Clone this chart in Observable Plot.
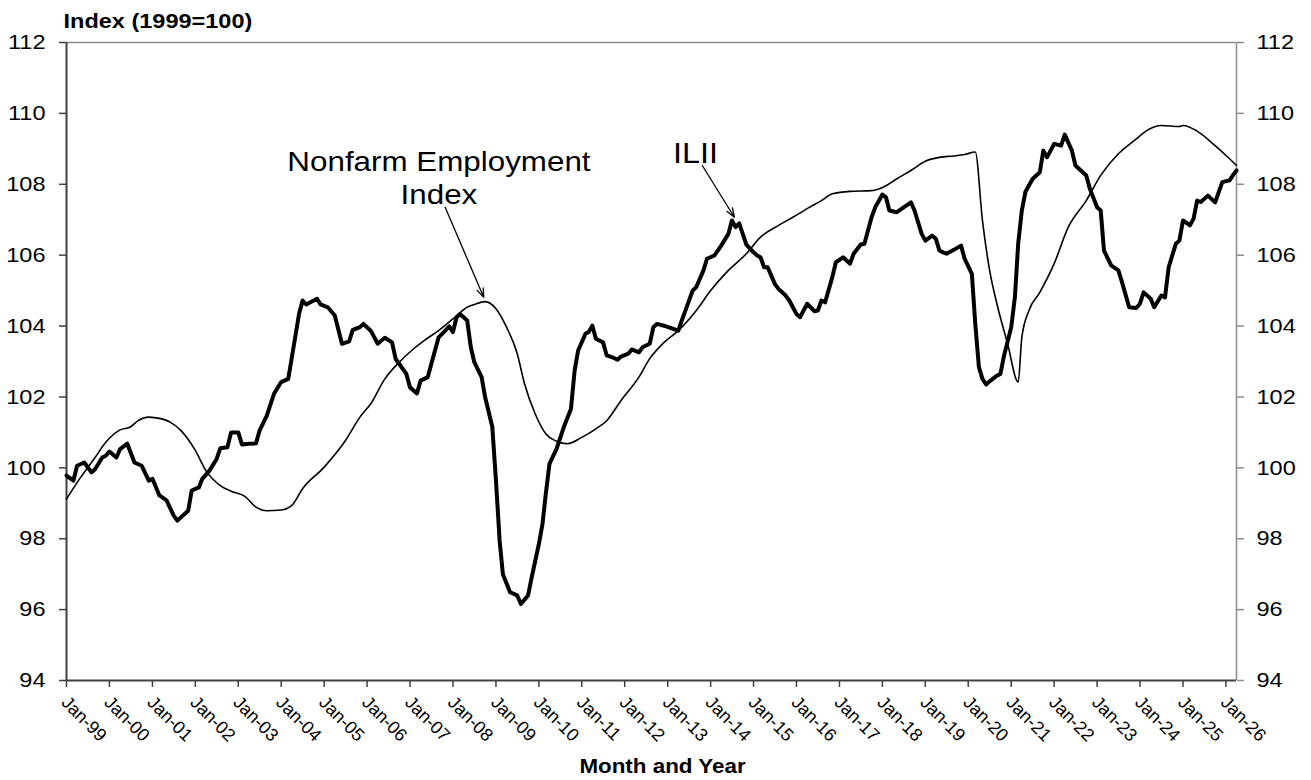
<!DOCTYPE html>
<html>
<head>
<meta charset="utf-8">
<script src="https://cdn.jsdelivr.net/npm/d3@7"></script>
<script src="https://cdn.jsdelivr.net/npm/@observablehq/plot@0.6"></script>
<style>
  body { margin: 0; background: #fff; }
  #chart svg { display: block; }
</style>
</head>
<body>
<div id="chart"></div>
<script>
// ILII (thick line) – month and index value
const iliiMonths = ["1999-01","1999-03","1999-04","1999-06","1999-08","1999-09","1999-11","1999-12","2000-01","2000-03","2000-04","2000-06","2000-08","2000-10","2000-12","2001-01","2001-03","2001-05","2001-07","2001-08","2001-11","2001-12","2002-02","2002-03","2002-05","2002-07","2002-08","2002-10","2002-11","2003-01","2003-02","2003-04","2003-06","2003-07","2003-09","2003-11","2004-01","2004-03","2004-04","2004-06","2004-07","2004-08","2004-11","2004-12","2005-02","2005-04","2005-06","2005-08","2005-09","2005-11","2005-12","2006-02","2006-04","2006-06","2006-08","2006-09","2006-12","2007-01","2007-03","2007-04","2007-06","2007-07","2007-09","2007-10","2007-12","2008-01","2008-02","2008-03","2008-05","2008-06","2008-07","2008-09","2008-10","2008-12","2009-01","2009-02","2009-03","2009-05","2009-07","2009-08","2009-10","2009-11","2010-01","2010-02","2010-03","2010-04","2010-06","2010-08","2010-10","2010-11","2010-12","2011-02","2011-03","2011-04","2011-05","2011-07","2011-08","2011-10","2011-11","2011-12","2012-02","2012-03","2012-05","2012-06","2012-07","2012-08","2012-09","2012-10","2012-12","2013-04","2013-05","2013-08","2013-09","2013-11","2013-12","2014-02","2014-04","2014-06","2014-07","2014-08","2014-09","2014-10","2014-11","2015-01","2015-02","2015-03","2015-04","2015-05","2015-07","2015-08","2015-10","2015-11","2016-01","2016-02","2016-04","2016-06","2016-07","2016-08","2016-09","2016-11","2016-12","2017-02","2017-04","2017-05","2017-07","2017-08","2017-10","2017-11","2018-01","2018-02","2018-03","2018-05","2018-07","2018-09","2018-10","2018-12","2019-01","2019-03","2019-04","2019-05","2019-06","2019-07","2019-09","2019-11","2019-12","2020-02","2020-03","2020-04","2020-05","2020-06","2020-07","2020-09","2020-10","2020-11","2021-01","2021-02","2021-03","2021-04","2021-05","2021-07","2021-09","2021-10","2021-11","2022-01","2022-03","2022-04","2022-06","2022-07","2022-09","2022-10","2022-11","2023-01","2023-02","2023-03","2023-05","2023-07","2023-08","2023-10","2023-12","2024-01","2024-02","2024-04","2024-05","2024-07","2024-08","2024-09","2024-11","2024-12","2025-01","2025-03","2025-04","2025-05","2025-06","2025-08","2025-10","2025-11","2025-12","2026-02","2026-03","2026-04"];
const iliiValues = [99.78,99.64,100.06,100.15,99.87,99.96,100.29,100.34,100.46,100.29,100.53,100.68,100.15,100.06,99.64,99.69,99.22,99.08,98.65,98.51,98.79,99.36,99.45,99.69,99.92,100.25,100.55,100.58,101.00,101.00,100.66,100.68,100.69,101.05,101.47,102.09,102.42,102.51,103.12,104.34,104.72,104.61,104.77,104.61,104.53,104.30,103.50,103.57,103.89,103.97,104.06,103.87,103.50,103.67,103.54,103.07,102.65,102.27,102.10,102.46,102.56,102.93,103.68,103.78,103.99,103.83,104.25,104.34,104.16,103.40,102.98,102.56,101.99,101.15,99.64,97.95,97.00,96.49,96.40,96.16,96.40,96.91,97.85,98.42,99.27,100.11,100.54,101.15,101.66,102.74,103.31,103.78,103.83,104.01,103.64,103.54,103.17,103.10,103.05,103.14,103.22,103.34,103.26,103.40,103.45,103.50,103.97,104.06,104.01,103.87,104.16,105.00,105.10,105.57,105.90,105.99,106.27,106.60,106.98,106.79,106.90,106.60,106.30,106.08,105.99,105.94,105.66,105.66,105.19,105.05,104.86,104.72,104.34,104.25,104.63,104.42,104.44,104.72,104.67,105.38,105.80,105.94,105.76,106.04,106.30,106.32,107.07,107.35,107.71,107.63,107.26,107.21,107.35,107.49,107.26,106.60,106.41,106.55,106.46,106.13,106.08,106.04,106.15,106.27,105.90,105.47,104.06,102.84,102.51,102.35,102.44,102.60,102.65,103.17,103.97,104.81,106.32,107.26,107.78,108.15,108.34,108.95,108.76,109.14,109.09,109.40,108.95,108.53,108.34,108.25,107.87,107.35,107.26,106.13,105.71,105.57,105.24,104.53,104.51,104.63,104.95,104.77,104.53,104.86,104.81,105.66,106.32,106.41,106.98,106.84,107.03,107.54,107.50,107.68,107.49,107.78,108.06,108.11,108.25,108.39];

// Nonfarm Employment Index (thin line)
const nfMonths = ["1999-01","1999-05","1999-09","1999-12","2000-04","2000-07","2000-09","2000-12","2001-02","2001-06","2001-09","2002-01","2002-04","2002-08","2002-11","2003-03","2003-06","2003-09","2004-01","2004-04","2004-07","2005-01","2005-07","2005-11","2006-02","2006-06","2006-10","2007-02","2007-05","2007-09","2008-01","2008-05","2008-07","2008-10","2009-01","2009-04","2009-07","2009-09","2009-12","2010-03","2010-06","2010-09","2011-01","2011-05","2011-08","2011-12","2012-05","2012-08","2012-12","2013-04","2013-09","2014-01","2014-06","2014-11","2015-03","2015-08","2015-12","2016-05","2016-08","2016-11","2017-04","2017-10","2018-02","2018-05","2018-09","2019-01","2019-05","2019-09","2019-12","2020-03","2020-05","2020-07","2020-09","2020-12","2021-03","2021-04","2021-06","2021-09","2022-01","2022-05","2022-10","2023-02","2023-07","2023-12","2024-03","2024-07","2024-12","2025-01","2025-05","2025-10","2026-02","2026-04"];
const nfValues = [99.12,99.73,100.29,100.72,101.07,101.16,101.33,101.43,101.41,101.29,101.05,100.49,99.92,99.50,99.34,99.19,98.89,98.79,98.81,98.94,99.41,100.02,100.77,101.43,101.81,102.51,102.98,103.36,103.59,103.87,104.20,104.53,104.61,104.69,104.49,103.97,103.22,102.37,101.52,100.96,100.75,100.68,100.86,101.10,101.33,101.90,102.56,103.08,103.54,103.87,104.44,105.00,105.57,106.04,106.51,106.84,107.07,107.37,107.54,107.73,107.80,107.82,107.96,108.15,108.39,108.65,108.76,108.80,108.84,108.91,106.98,105.57,104.63,103.50,102.42,103.68,104.44,104.95,105.76,106.79,107.54,108.25,108.86,109.28,109.52,109.66,109.63,109.66,109.50,109.09,108.72,108.53];

const yTicks = [94, 96, 98, 100, 102, 104, 106, 108, 110, 112];
const tickLabels = ["Jan-99","Jan-00","Jan-01","Jan-02","Jan-03","Jan-04","Jan-05","Jan-06","Jan-07","Jan-08","Jan-09","Jan-10","Jan-11","Jan-12","Jan-13","Jan-14","Jan-15","Jan-16","Jan-17","Jan-18","Jan-19","Jan-20","Jan-21","Jan-22","Jan-23","Jan-24","Jan-25","Jan-26"];

// Callout labels and pointer arrows (anchored in data space)
const labelTexts = ["Nonfarm Employment\nIndex", "ILII"];
const labelDates = ["2007-09-04", "2013-08-25"];
const labelValues = [109.05, 109.28];
const labelSizes = [28, 29];
const arrowFromDates = ["2007-10-27", "2013-10-22"];
const arrowFromValues = [107.35, 108.53];
const arrowToDates = ["2008-09-19", "2014-07-22"];
const arrowToValues = [104.81, 107.07];

const parseM = d3.utcParse("%Y-%m");
const parseD = d3.utcParse("%Y-%m-%d");
const ilii = iliiMonths.map((m, i) => ({date: parseM(m), value: iliiValues[i]}));
const nf = nfMonths.map((m, i) => ({date: parseM(m), value: nfValues[i]}));
const tickDates = tickLabels.map((l, i) => new Date(Date.UTC(1999 + i, 0, 1)));
const labelOf = new Map(tickDates.map((d, i) => [+d, tickLabels[i]]));
const labels = labelTexts.map((t, i) => ({text: t, date: parseD(labelDates[i]), value: labelValues[i], size: labelSizes[i]}));
const arrows = arrowFromDates.map((d, i) => ({x1: parseD(d), y1: arrowFromValues[i], x2: parseD(arrowToDates[i]), y2: arrowToValues[i]}));

const xStart = ilii[0].date, xEnd = ilii[ilii.length - 1].date;
const dark = "#404040", grey = "#8c8c8c";

const chart = Plot.plot({
  width: 1311,
  height: 780,
  marginLeft: 66,
  marginRight: 75,
  marginTop: 42,
  marginBottom: 100,
  style: {fontFamily: "'Liberation Sans', Arial, sans-serif", fontSize: "21px", color: "black", background: "white"},
  x: {type: "utc", domain: [xStart, xEnd]},
  y: {domain: [94, 112]},
  marks: [
    Plot.ruleY([112], {stroke: grey, strokeWidth: 1.5}),
    Plot.ruleX([xEnd], {stroke: grey, strokeWidth: 1.5}),
    Plot.axisY(yTicks, {anchor: "left", tickSize: 7, tickPadding: 14, stroke: dark, strokeWidth: 1.5, fontSize: 21, label: null}),
    Plot.axisY(yTicks, {anchor: "right", tickSize: 7, tickPadding: 13, stroke: grey, strokeWidth: 1.5, fontSize: 21, label: null}),
    // tick marks
    Plot.axisX(tickDates, {anchor: "bottom", tickSize: 7, text: null, stroke: dark, strokeWidth: 1.5, label: null}),
    // rotated tick labels
    Plot.axisX(tickDates, {anchor: "bottom", tickSize: 0, tickPadding: 19, tickRotate: 45, textAnchor: "start", dx: -2,
      fontSize: 18, label: null, tickFormat: d => labelOf.get(+d)}),
    Plot.ruleX([xStart], {stroke: dark, strokeWidth: 2}),
    Plot.ruleY([94], {stroke: dark, strokeWidth: 2}),
    Plot.line(nf, {x: "date", y: "value", stroke: "black", strokeWidth: 1.6, curve: "monotone-x"}),
    Plot.line(ilii, {x: "date", y: "value", stroke: "black", strokeWidth: 4, strokeLinejoin: "round"}),
    Plot.arrow(arrows, {x1: "x1", y1: "y1", x2: "x2", y2: "y2", stroke: "black", strokeWidth: 1.3, headLength: 11, headAngle: 40}),
    Plot.text(labels, {x: "date", y: "value", text: "text", fontSize: "size", lineAnchor: "top", lineHeight: 1.19, textAnchor: "middle", fill: "black"}),
    Plot.text(["Index (1999=100)"], {frameAnchor: "top-left", textAnchor: "start", lineAnchor: "bottom", dx: -3, dy: -15, fontSize: 21, fontWeight: "bold"}),
    Plot.text(["Month and Year"], {frameAnchor: "bottom", textAnchor: "middle", lineAnchor: "bottom", dx: 11, dy: 92, fontSize: 20, fontWeight: "bold"})
  ]
});

// Reference glyphs are horizontally wider than Arial: widen each label around its anchor.
chart.querySelectorAll("text").forEach(t => {
  const tr = t.getAttribute("transform");
  if (tr && !tr.includes("rotate")) t.setAttribute("transform", tr + " scale(1.12,1)");
});
document.getElementById("chart").appendChild(chart);
</script>
</body>
</html>
